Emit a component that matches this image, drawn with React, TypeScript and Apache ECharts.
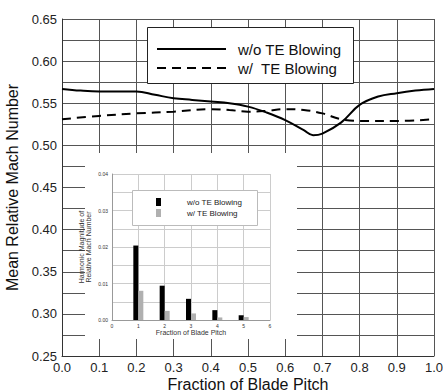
import React, { useEffect, useRef } from "react";
import * as echarts from "echarts";

const pitchWithout = [0, 0.05, 0.1, 0.15, 0.2, 0.25, 0.3, 0.35, 0.4, 0.45, 0.5, 0.55, 0.6, 0.65, 0.675, 0.7, 0.75, 0.8, 0.85, 0.9, 0.95, 1.0];
const machWithout = [0.567, 0.565, 0.564, 0.564, 0.564, 0.560, 0.556, 0.554, 0.552, 0.550, 0.546, 0.539, 0.530, 0.518, 0.512, 0.514, 0.527, 0.548, 0.558, 0.562, 0.565, 0.567];
const pitchWith = [0, 0.1, 0.2, 0.3, 0.4, 0.45, 0.5, 0.55, 0.6, 0.65, 0.7, 0.75, 0.8, 0.9, 1.0];
const machWith = [0.531, 0.535, 0.538, 0.540, 0.543, 0.542, 0.540, 0.541, 0.543, 0.542, 0.538, 0.531, 0.529, 0.529, 0.531];

const harmonics = [1, 2, 3, 4, 5];
const harmWithout = [0.0204, 0.0094, 0.0058, 0.0027, 0.0013];
const harmWith = [0.0080, 0.0025, 0.0018, 0.0007, 0.0008];

const NAME_WO = "w/o TE Blowing";
const NAME_W = "w/  TE Blowing";
const NAME_WO_I = "w/o TE Blowing ";
const NAME_W_I = "w/ TE Blowing";

export default function App() {
  const ref = useRef<HTMLDivElement>(null);
  useEffect(() => {
    if (!ref.current) return;
    const chart = echarts.init(ref.current, null, { renderer: "svg" });
    const font = "Liberation Sans, Arial, sans-serif";
    const option: any = {
      animation: false,
      backgroundColor: "#fff",
      textStyle: { fontFamily: font },
      grid: [
        { left: 62, right: 9, top: 19, bottom: 36, outerBoundsMode: "none", containLabel: false },
        { left: 112, top: 174, width: 158, height: 146, outerBoundsMode: "none", containLabel: false },
      ],
      xAxis: [
        {
          type: "value", gridIndex: 0, min: 0, max: 1, interval: 0.1, z: 0,
          name: "Fraction of Blade Pitch", nameLocation: "middle", nameGap: 20, nameMoveOverlap: false,
          nameTextStyle: { fontSize: 16, color: "#111", fontFamily: font },
          axisLine: { show: true, lineStyle: { color: "#333", width: 1 } },
          axisTick: { show: false },
          axisLabel: { fontSize: 13, color: "#222", margin: 5, formatter: (v: number) => v.toFixed(1), fontFamily: font },
          splitLine: { show: true, lineStyle: { color: "#555", width: 1 } },
        },
        {
          type: "value", gridIndex: 1, min: 0, max: 6, interval: 1, z: 10,
          name: "Fraction of Blade Pitch", nameLocation: "middle", nameGap: 9,
          nameTextStyle: { fontSize: 7, color: "#333", fontFamily: font },
          axisLine: { show: true, lineStyle: { color: "#999", width: 1 } },
          axisTick: { show: false },
          axisLabel: { fontSize: 5, color: "#333", margin: 3, fontFamily: font },
          splitLine: { show: true, lineStyle: { color: "#ccc", width: 1 } },
        },
      ],
      yAxis: [
        {
          type: "value", gridIndex: 0, min: 0.25, max: 0.65, interval: 0.025, z: 0,
          name: "Mean Relative Mach Number", nameLocation: "middle", nameGap: 34,
          nameTextStyle: { fontSize: 16, color: "#111", fontFamily: font },
          axisLine: { show: true, lineStyle: { color: "#333", width: 1 } },
          axisTick: { show: false },
          axisLabel: {
            fontSize: 13, color: "#222", margin: 5, fontFamily: font,
            formatter: (v: number) => (Math.round(v * 1000) % 50 === 0 ? v.toFixed(2) : ""),
          },
          splitLine: { show: true, lineStyle: { color: "#555", width: 1 } },
        },
        {
          type: "value", gridIndex: 1, min: 0, max: 0.04, interval: 0.005, z: 10,
          name: "Harmonic Magnitude of\nRelative Mach Number", nameLocation: "middle", nameGap: 20,
          nameTextStyle: { fontSize: 7, color: "#333", fontFamily: font, lineHeight: 7 },
          axisLine: { show: true, lineStyle: { color: "#999", width: 1 } },
          axisTick: { show: false },
          axisLabel: {
            fontSize: 5, color: "#333", margin: 4, fontFamily: font,
            formatter: (v: number) => (Math.round(v * 10000) % 100 === 0 ? v.toFixed(2) : ""),
          },
          splitLine: { show: true, lineStyle: { color: "#ccc", width: 1 } },
        },
      ],
      graphic: [
        { type: "rect", z: 3, shape: { x: 85, y: 153, width: 212, height: 186 }, style: { fill: "#fff", stroke: null } },
        { type: "rect", z: 5, shape: { x: 147.5, y: 27.5, width: 206, height: 56 }, style: { fill: "#fff", stroke: "#222", lineWidth: 1 } },
        { type: "line", z: 6, shape: { x1: 157, y1: 49, x2: 226, y2: 49 }, style: { stroke: "#000", lineWidth: 2 } },
        { type: "line", z: 6, shape: { x1: 157, y1: 68, x2: 226, y2: 68 }, style: { stroke: "#000", lineWidth: 2, lineDash: [9, 6] } },
        { type: "text", z: 6, x: 238, y: 49, style: { text: NAME_WO, fontSize: 15, fontFamily: font, fill: "#111", verticalAlign: "middle", align: "left" } },
        { type: "text", z: 6, x: 238, y: 68, style: { text: NAME_W, fontSize: 15, fontFamily: font, fill: "#111", verticalAlign: "middle", align: "left" } },
        { type: "rect", z: 11, shape: { x: 132.5, y: 190.5, width: 125, height: 35 }, style: { fill: "#fff", stroke: "#bbb", lineWidth: 1 } },
      ],
      legend: [
        {
          z: 12, left: 156, top: 198, orient: "vertical", padding: 0,
          itemWidth: 5, itemHeight: 8, itemGap: 3, icon: "rect",
          data: [NAME_WO_I, NAME_W_I],
          textStyle: { fontSize: 8, color: "#222", fontFamily: font, padding: [0, 0, 0, 21] },
        },
      ],
      series: [
        {
          name: NAME_WO, type: "line", xAxisIndex: 0, yAxisIndex: 0, smooth: 0.4, symbol: "none", z: 2,
          data: pitchWithout.map((x, i) => [x, machWithout[i]]),
          lineStyle: { color: "#000", width: 2, type: "solid" },
          itemStyle: { color: "#000" },
        },
        {
          name: NAME_W, type: "line", xAxisIndex: 0, yAxisIndex: 0, smooth: 0.4, symbol: "none", z: 2,
          data: pitchWith.map((x, i) => [x, machWith[i]]),
          lineStyle: { color: "#000", width: 2, type: [9, 6] },
          itemStyle: { color: "#000" },
        },
        {
          name: NAME_WO_I, type: "bar", xAxisIndex: 1, yAxisIndex: 1, z: 12, barWidth: 5, barGap: "0%",
          data: harmonics.map((x, i) => [x, harmWithout[i]]),
          itemStyle: { color: "#000" },
        },
        {
          name: NAME_W_I, type: "bar", xAxisIndex: 1, yAxisIndex: 1, z: 12, barWidth: 5, barGap: "0%",
          data: harmonics.map((x, i) => [x, harmWith[i]]),
          itemStyle: { color: "#b0b0b0" },
        },
      ],
    };
    chart.setOption(option);
    return () => chart.dispose();
  }, []);
  return <div ref={ref} style={{ position: "absolute", left: 0, top: 0, width: 443, height: 392 }} />;
}
